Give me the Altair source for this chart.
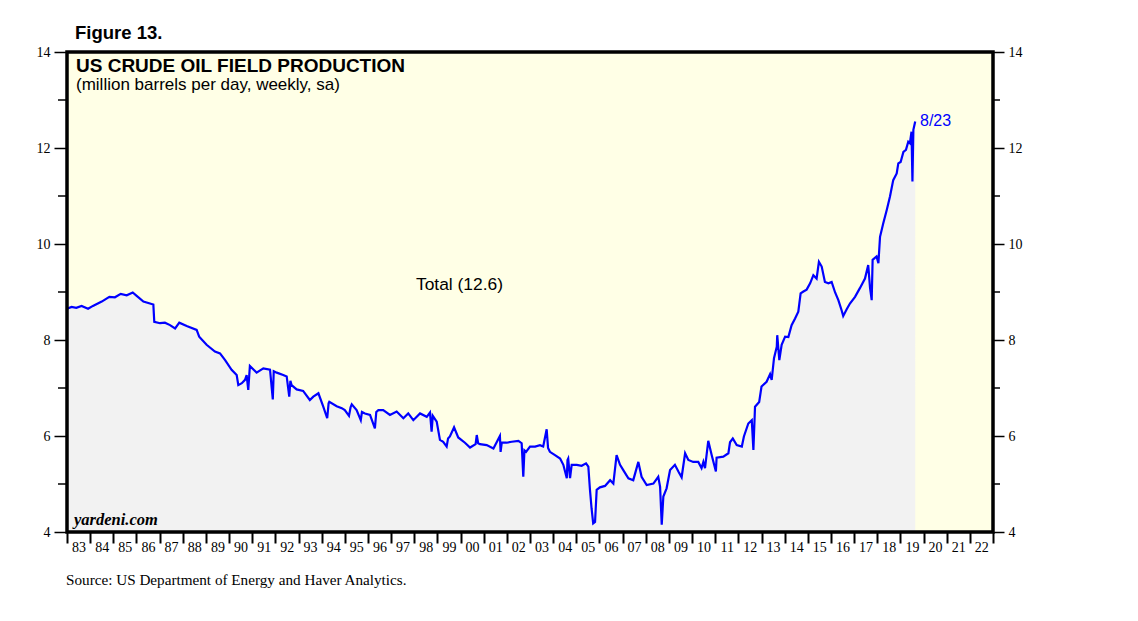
import altair as alt
import pandas as pd

# ---- data (decimal year, million barrels/day) ----
years = [
    1983.00, 1983.20, 1983.40, 1983.63, 1983.91, 1984.12, 1984.50, 1984.83, 1985.07, 1985.32,
    1985.58, 1985.84, 1986.01, 1986.30, 1986.73, 1986.77, 1987.02, 1987.23, 1987.45, 1987.67,
    1987.85, 1988.17, 1988.60, 1988.71, 1989.03, 1989.39, 1989.61, 1989.83, 1990.11, 1990.33,
    1990.40, 1990.55, 1990.69, 1990.76, 1990.83, 1990.90, 1991.19, 1991.48, 1991.77, 1991.89,
    1991.93, 1992.06, 1992.34, 1992.49, 1992.60, 1992.65, 1992.70, 1992.92, 1993.20, 1993.49,
    1993.64, 1993.86, 1994.07, 1994.24, 1994.30, 1994.33, 1994.65, 1994.87, 1995.00, 1995.18,
    1995.25, 1995.30, 1995.51, 1995.69, 1995.74, 1995.87, 1996.09, 1996.30, 1996.36, 1996.45,
    1996.66, 1996.95, 1997.24, 1997.53, 1997.74, 1997.96, 1998.25, 1998.54, 1998.68, 1998.75,
    1998.80, 1998.97, 1999.11, 1999.25, 1999.40, 1999.46, 1999.54, 1999.72, 1999.90, 2000.19,
    2000.41, 2000.65, 2000.70, 2000.76, 2000.84, 2001.13, 2001.42, 2001.70, 2001.73, 2001.78,
    2001.99, 2002.21, 2002.50, 2002.64, 2002.71, 2002.76, 2002.83, 2003.00, 2003.22, 2003.43,
    2003.57, 2003.72, 2003.78, 2003.86, 2004.08, 2004.30, 2004.44, 2004.59, 2004.62, 2004.65,
    2004.73, 2004.80, 2005.02, 2005.23, 2005.42, 2005.52, 2005.59, 2005.66, 2005.73, 2005.81,
    2005.88, 2006.02, 2006.24, 2006.46, 2006.60, 2006.74, 2006.89, 2007.03, 2007.25, 2007.46,
    2007.68, 2007.82, 2008.04, 2008.33, 2008.54, 2008.62, 2008.69, 2008.76, 2008.90, 2009.05,
    2009.26, 2009.41, 2009.55, 2009.70, 2009.84, 2010.05, 2010.27, 2010.41, 2010.49, 2010.56,
    2010.70, 2010.85, 2011.03, 2011.06, 2011.35, 2011.57, 2011.64, 2011.76, 2011.93, 2012.15,
    2012.24, 2012.43, 2012.58, 2012.65, 2012.72, 2012.90, 2013.00, 2013.22, 2013.37, 2013.44,
    2013.54, 2013.66, 2013.68, 2013.77, 2013.87, 2014.02, 2014.16, 2014.30, 2014.45, 2014.59,
    2014.69, 2014.81, 2014.95, 2015.10, 2015.24, 2015.38, 2015.48, 2015.60, 2015.74, 2015.89,
    2016.03, 2016.18, 2016.32, 2016.46, 2016.53, 2016.68, 2016.82, 2017.04, 2017.25, 2017.47,
    2017.61, 2017.69, 2017.76, 2017.80, 2017.97, 2018.05, 2018.12, 2018.26, 2018.41, 2018.55,
    2018.69, 2018.84, 2018.91, 2019.01, 2019.13, 2019.24, 2019.34, 2019.41, 2019.48, 2019.52,
    2019.56, 2019.64,
]
production = [
    8.65, 8.69, 8.67, 8.71, 8.65, 8.71, 8.80, 8.90, 8.89, 8.96,
    8.93, 8.99, 8.92, 8.80, 8.74, 8.38, 8.35, 8.36, 8.31, 8.24,
    8.36, 8.29, 8.21, 8.07, 7.90, 7.76, 7.72, 7.58, 7.38, 7.27,
    7.06, 7.10, 7.17, 7.27, 6.96, 7.46, 7.32, 7.41, 7.38, 6.76,
    7.35, 7.32, 7.27, 7.24, 6.82, 7.15, 7.06, 6.97, 6.94, 6.75,
    6.82, 6.89, 6.61, 6.37, 6.68, 6.71, 6.62, 6.58, 6.54, 6.42,
    6.60, 6.66, 6.54, 6.33, 6.50, 6.47, 6.44, 6.16, 6.50, 6.54,
    6.54, 6.44, 6.51, 6.37, 6.47, 6.33, 6.47, 6.40, 6.49, 6.09,
    6.42, 6.30, 5.92, 5.88, 5.78, 5.95, 5.99, 6.18, 5.97, 5.86,
    5.76, 5.83, 6.02, 5.85, 5.83, 5.81, 5.74, 6.00, 5.67, 5.86,
    5.86, 5.88, 5.90, 5.85, 5.15, 5.70, 5.67, 5.78, 5.78, 5.81,
    5.78, 6.14, 5.75, 5.67, 5.60, 5.53, 5.40, 5.12, 5.50, 5.53,
    5.12, 5.40, 5.40, 5.38, 5.43, 5.36, 4.88, 4.49, 4.18, 4.21,
    4.88, 4.93, 4.96, 5.08, 5.01, 5.60, 5.40, 5.29, 5.12, 5.08,
    5.46, 5.15, 4.98, 5.01, 5.15, 4.94, 4.15, 4.74, 4.91, 5.29,
    5.40, 5.26, 5.14, 5.64, 5.50, 5.46, 5.46, 5.33, 5.46, 5.33,
    5.90, 5.60, 5.26, 5.55, 5.57, 5.64, 5.87, 5.95, 5.81, 5.78,
    5.99, 6.26, 6.33, 5.71, 6.61, 6.71, 7.03, 7.13, 7.29, 7.17,
    7.62, 7.86, 8.10, 7.58, 7.90, 8.07, 8.06, 8.31, 8.45, 8.59,
    8.97, 9.01, 9.05, 9.18, 9.35, 9.28, 9.63, 9.53, 9.21, 9.18,
    9.21, 8.99, 8.83, 8.62, 8.50, 8.64, 8.76, 8.90, 9.08, 9.28,
    9.56, 9.08, 8.83, 9.67, 9.74, 9.60, 10.15, 10.43, 10.71, 10.99,
    11.33, 11.47, 11.68, 11.71, 11.92, 11.96, 12.13, 12.10, 12.34, 11.30,
    12.38, 12.55,
]
major_ticks = [4, 6, 8, 10, 12, 14]
minor_ticks = [5, 7, 9, 11, 13]
year_ticks = list(range(1983, 2024))

df = pd.DataFrame({"year": years, "value": production})
df["base"] = 4
minor_df = pd.DataFrame({"v": minor_ticks})

W, H = 926, 480
BLUE = "#0000FF"
SANS = "Liberation Sans"
SERIF = "Liberation Serif"

xscale = alt.Scale(domain=[1983, 2023], nice=False, zero=False)
yscale = alt.Scale(domain=[4, 14], nice=False, zero=False)

x_axis = alt.Axis(
    values=year_ticks,
    labelExpr="datum.value < 2023 ? substring(toString(datum.value), 2, 4) : ''",
    labelOffset=11.5, tickSize=11, tickWidth=2, tickColor="black",
    domain=False, grid=False, labelFont=SERIF, labelFontSize=14,
    labelColor="black", labelPadding=-3, labelBaseline="top",
    labelOverlap=False, labelBound=False, labelFlush=False, title=None,
)
y_left = alt.Axis(
    values=major_ticks, tickSize=13, tickWidth=1.5, tickColor="black",
    domain=False, grid=False, labelFont=SERIF, labelFontSize=14,
    labelColor="black", labelPadding=4, title=None, orient="left",
)
y_right = alt.Axis(
    values=major_ticks, tickSize=11, tickWidth=1.5, tickColor="black",
    domain=False, grid=False, labelFont=SERIF, labelFontSize=14,
    labelColor="black", labelPadding=4, title=None, orient="right",
)

base = alt.Chart(df)

area = base.mark_area(color="#F2F2F2", clip=True).encode(
    x=alt.X("year:Q", scale=xscale, axis=x_axis),
    y=alt.Y("value:Q", scale=yscale, axis=y_left),
    y2="base:Q",
)
line = base.mark_line(color=BLUE, strokeWidth=2.2, clip=True).encode(
    x=alt.X("year:Q", scale=xscale, axis=x_axis),
    y=alt.Y("value:Q", scale=yscale, axis=y_right),
)

minor_left = alt.Chart(minor_df).mark_rule(color="black", strokeWidth=1.5).encode(
    x=alt.value(-9), x2=alt.value(0),
    y=alt.Y("v:Q", scale=yscale, axis=None),
)
minor_right = alt.Chart(minor_df).mark_rule(color="black", strokeWidth=1.5).encode(
    x=alt.value(W), x2=alt.value(W + 7),
    y=alt.Y("v:Q", scale=yscale, axis=None),
)

frame_df = pd.DataFrame({"k": [0]})
frame = alt.Chart(frame_df).mark_rect(
    fill="transparent", stroke="black", strokeWidth=3.5
).encode(x=alt.value(0), x2=alt.value(W), y=alt.value(0), y2=alt.value(H))


def label(text, x, y, size, font=SANS, weight="normal", style="normal",
          color="black", align="left", baseline="alphabetic"):
    return alt.Chart(frame_df).mark_text(
        text=text, font=font, fontSize=size, fontWeight=weight, fontStyle=style,
        color=color, align=align, baseline=baseline,
    ).encode(x=alt.value(x), y=alt.value(y))


texts = [
    label("Figure 13.", 8, -13.5, 18.5, weight="bold"),
    label("US CRUDE OIL FIELD PRODUCTION", 9, 20, 19, weight="bold"),
    label("(million barrels per day, weekly, sa)", 9, 38, 17),
    label("Total (12.6)", 349, 233, 17.4, baseline="middle"),
    label("8/23", 853, 69, 16, color=BLUE, baseline="middle"),
    label("yardeni.com", 7, 473, 16.5, font=SERIF, style="italic", weight="bold"),
    label("Source: US Department of Energy and Haver Analytics.", -1, 533, 15.2, font=SERIF),
]

chart = alt.layer(area, line, minor_left, minor_right, frame, *texts).resolve_axis(
    y="independent"
).properties(
    width=W, height=H,
    background="white",
    autosize=alt.AutoSizeParams(type="none"),
    padding={"left": 59, "top": 44, "right": 130, "bottom": 75},
).configure_view(
    fill="#FFFFE6", stroke=None
)

chart.save("out.html", embed_options={"renderer": "svg", "actions": False})
